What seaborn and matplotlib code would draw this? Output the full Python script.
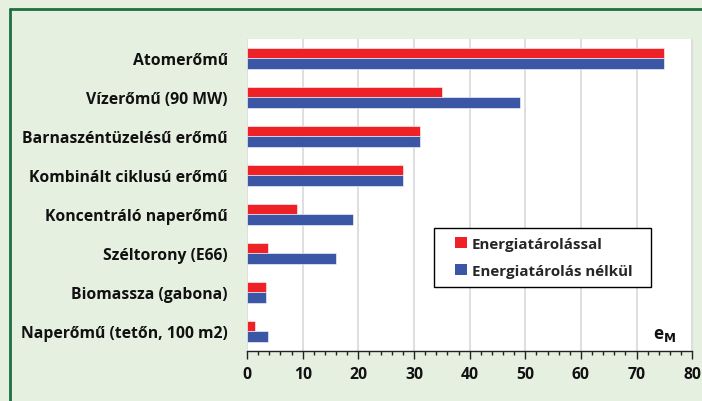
import matplotlib
matplotlib.use("Agg")
import matplotlib.pyplot as plt
from matplotlib.lines import Line2D
from matplotlib.patches import Patch, Rectangle
from matplotlib.ticker import MultipleLocator
import pandas as pd
import seaborn as sns

# -------------------------
# Data
# -------------------------
categories = ["Atomerőmű", "Vízerőmű (90 MW)", "Barnaszéntüzelésű erőmű",
              "Kombinált ciklusú erőmű", "Koncentráló naperőmű", "Széltorony (E66)",
              "Biomassza (gabona)", "Naperőmű (tetőn, 100 m2)"]
with_storage = [75, 35, 31, 28, 9, 3.8, 3.4, 1.5]
without_storage = [75, 49, 31, 28, 19, 16, 3.4, 3.8]
series_names = ["Energiatárolással", "Energiatárolás nélkül"]
x_ticks = [0, 10, 20, 30, 40, 50, 60, 70, 80]

RED = "#EE2226"
BLUE = "#3A56A5"
BG = "#E6F0E1"

df = pd.DataFrame({
    "cat": categories * 2,
    "val": with_storage + without_storage,
    "series": [series_names[0]] * len(categories) + [series_names[1]] * len(categories),
})

sns.set_style("white")
plt.rcParams["font.family"] = ["Open Sans", "DejaVu Sans"]
plt.rcParams["font.weight"] = "bold"
FS = 11.3

fig = plt.figure(figsize=(7.02, 4.02), dpi=100, facecolor=BG)
ax = fig.add_axes([0.352, 0.1244, 0.634, 0.7761])

sns.barplot(data=df, y="cat", x="val", hue="series", orient="h",
            palette=[RED, BLUE], saturation=1, width=0.54, ax=ax, legend=False,
            edgecolor="white", linewidth=0.4)

ax.set_xlim(0, 80)
ax.set_xticks(x_ticks)
ax.xaxis.set_minor_locator(MultipleLocator(2))
ax.grid(axis="x", color="#D9D9D9", linewidth=1.2)
ax.set_axisbelow(True)
ax.set_xlabel("")
ax.set_ylabel("")

for s in ["top", "left"]:
    ax.spines[s].set_visible(False)
ax.spines["right"].set_color("#DDDDDD")
ax.spines["bottom"].set_color("#222222")
ax.spines["bottom"].set_linewidth(1)

ax.tick_params(axis="x", which="major", bottom=True, direction="out", length=6, width=1,
               color="#222222", labelsize=FS, pad=5)
ax.tick_params(axis="x", which="minor", bottom=True, direction="out", length=3, width=1,
               color="#222222")
ax.tick_params(axis="y", left=False, length=0, labelsize=FS, pad=14)
for lbl in ax.get_xticklabels() + ax.get_yticklabels():
    lbl.set_fontweight("bold")
    lbl.set_color("#111111")

# legend: frame drawn separately so the entries sit inset like the original
ax.add_patch(Rectangle((0.42, 0.205), 0.488, 0.189, transform=ax.transAxes,
                       facecolor="white", edgecolor="black", linewidth=1, zorder=5))
handles = [Patch(facecolor=RED, edgecolor="none"), Patch(facecolor=BLUE, edgecolor="none")]
leg = ax.legend(handles, series_names, loc="center left",
                bbox_to_anchor=(0.468, 0.2997), frameon=False,
                prop={"weight": "bold", "size": 10.9},
                handlelength=0.75, handleheight=0.75, handletextpad=0.35,
                labelspacing=0.85, borderpad=0, borderaxespad=0)
leg.set_zorder(6)

ax.text(0.937, 0.055, "e$_\\mathbf{M}$", transform=ax.transAxes, fontsize=FS + 1,
        fontweight="bold", ha="center", va="center", color="#111111")

# green frame on left and top edges
fig.add_artist(Line2D([10 / 702, 10 / 702], [0, 1 - 10 / 402], transform=fig.transFigure,
                      color="#1E7040", linewidth=2))
fig.add_artist(Line2D([10 / 702, 1], [1 - 10 / 402, 1 - 10 / 402], transform=fig.transFigure,
                      color="#1E7040", linewidth=2))

fig.savefig("out.png", dpi=100, facecolor=BG)
